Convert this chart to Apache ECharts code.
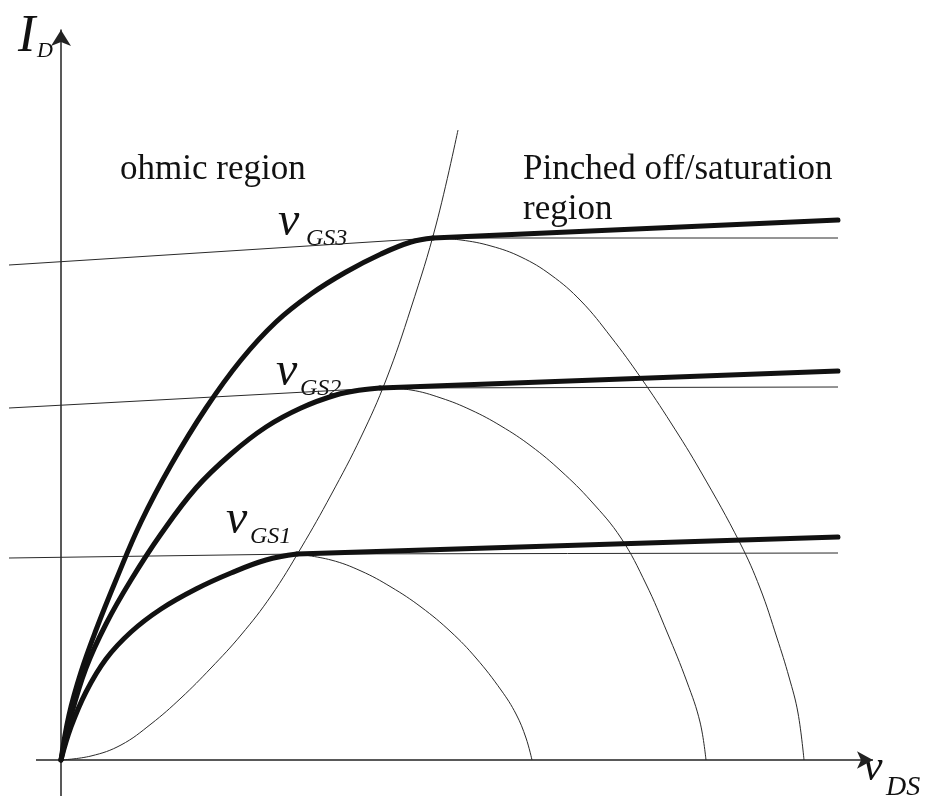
<!DOCTYPE html>
<html>
<head>
<meta charset="utf-8">
<script src="https://cdn.jsdelivr.net/npm/echarts@6/dist/echarts.min.js"></script>
<style>
  html, body { margin: 0; padding: 0; background: #ffffff; }
  #chart { width: 928px; height: 796px; }
</style>
</head>
<body>
<div id="chart"></div>
<script>
// Drain current I_D versus drain-source voltage v_DS for three gate voltages
// (arbitrary units on both axes).

// Ohmic (triode) part of each characteristic, from the origin up to pinch-off
const ohmic1 = [[0,0],[10,33],[25,68],[45,101],[70,128],[100,151],[135,171],[170,187],[205,200],[236,206]];
const ohmic2 = [[0,0],[10,44],[25,92],[45,136],[70,180],[100,226],[135,272],[170,306],[205,333],[240,352],[275,365],[300,370],[319,372]];
const ohmic3 = [[0,0],[8,45],[20,88],[35,130],[55,180],[80,238],[110,295],[145,352],[180,400],[215,438],[250,466],[285,488],[320,506],[350,518],[372,522]];

// Saturation part (slight slope from channel-length modulation)
const sat1 = [[236,206],[777,223]];
const sat2 = [[319,372],[777,389]];
const sat3 = [[372,522],[777,540]];

// Thin reference lines: extrapolated saturation line to the left, ideal flat current to the right
const ref1 = [[-52,202],[236,206],[777,207]];
const ref2 = [[-52,352],[319,372],[777,373]];
const ref3 = [[-52,495],[372,522],[777,522]];

// Continuation of the triode parabola beyond pinch-off, back down to zero
const fall1 = [[236,206],[270,200],[300,189],[330,173],[360,153],[390,128],[415,102],[440,70],[455,46],[465,22],[471,0]];
const fall2 = [[319,372],[350,370],[380,362],[410,350],[440,334],[470,314],[500,289],[530,259],[560,222],[585,176],[606,128],[626,78],[639,38],[645,0]];
const fall3 = [[372,522],[400,520],[430,514],[460,503],[490,485],[520,459],[550,423],[580,382],[610,337],[640,288],[679,217],[699,172],[716,122],[728,83],[737,47],[743,0]];

// Pinch-off boundary v_DS = v_GS - V_t separating the two regions
const boundary = [[0,0],[30,4],[60,15],[90,36],[120,62],[150,92],[180,125],[210,164],[240,212],[270,265],[300,323],[325,380],[350,452],[375,535],[397,630]];

// Axis extents and the visible stretch of the v_DS axis
const xRange = [-53, 812];
const yRange = [-36, 730];
const xAxisSpan = [-25, 812];

const serif = '"Liberation Serif", "DejaVu Serif", serif';
const ink = '#111111';
const thin = '#2a2a2a';

function thickLine(data) {
  return {
    type: 'line', data: data, smooth: 0.4, showSymbol: false, silent: true,
    lineStyle: { color: ink, width: 5, cap: 'round', join: 'round' }, z: 5
  };
}
function thinLine(data, smooth) {
  return {
    type: 'line', data: data, smooth: smooth, showSymbol: false, silent: true,
    lineStyle: { color: thin, width: 1 }, z: 3
  };
}

function label(text, x, y, size, italic) {
  return {
    type: 'text', x: x, y: y, silent: true,
    style: {
      text: text, fill: ink, verticalAlign: 'middle', align: 'left',
      font: (italic ? 'italic ' : '') + size + 'px ' + serif
    }
  };
}

const boundarySeries = thinLine(boundary, 0.4);
// v_DS axis with its arrow head
boundarySeries.markLine = {
  silent: true, symbol: ['none', 'arrow'], symbolSize: [13, 16],
  label: { show: false },
  lineStyle: { color: '#222', width: 1.5, type: 'solid' },
  emphasis: { disabled: true },
  data: [[{ coord: [xAxisSpan[0], 0] }, { coord: [xAxisSpan[1], 0] }]]
};

const chart = echarts.init(document.getElementById('chart'), null, { renderer: 'canvas' });
chart.setOption({
  animation: false,
  backgroundColor: '#ffffff',
  grid: { left: 8, right: 55, top: 30, bottom: 0, containLabel: false },
  xAxis: {
    type: 'value', min: xRange[0], max: xRange[1],
    axisLine: { show: false },
    axisTick: { show: false }, axisLabel: { show: false }, splitLine: { show: false }
  },
  yAxis: {
    type: 'value', min: yRange[0], max: yRange[1],
    axisLine: { show: true, onZero: true, symbol: ['none', 'arrow'], symbolSize: [15, 16],
      lineStyle: { color: '#222', width: 1.5 } },
    axisTick: { show: false }, axisLabel: { show: false }, splitLine: { show: false }
  },
  series: [
    thinLine(ref1, false), thinLine(ref2, false), thinLine(ref3, false),
    thinLine(fall1, 0.4), thinLine(fall2, 0.4), thinLine(fall3, 0.4),
    boundarySeries,
    thickLine(ohmic1), thickLine(ohmic2), thickLine(ohmic3),
    thickLine(sat1), thickLine(sat2), thickLine(sat3)
  ],
  graphic: [
    label('I', 18, 37, 52, true), label('D', 37, 51, 22, true),
    label('v', 863, 768, 44, true), label('DS', 886, 788, 28, true),
    label('ohmic region', 120, 170, 35, false),
    label('Pinched off/saturation', 523, 170, 35, false),
    label('region', 523, 210, 35, false),
    label('v', 278, 222, 48, true), label('GS3', 306, 239, 24, true),
    label('v', 276, 372, 48, true), label('GS2', 300, 389, 24, true),
    label('v', 226, 520, 48, true), label('GS1', 250, 537, 24, true)
  ]
});
</script>
</body>
</html>
